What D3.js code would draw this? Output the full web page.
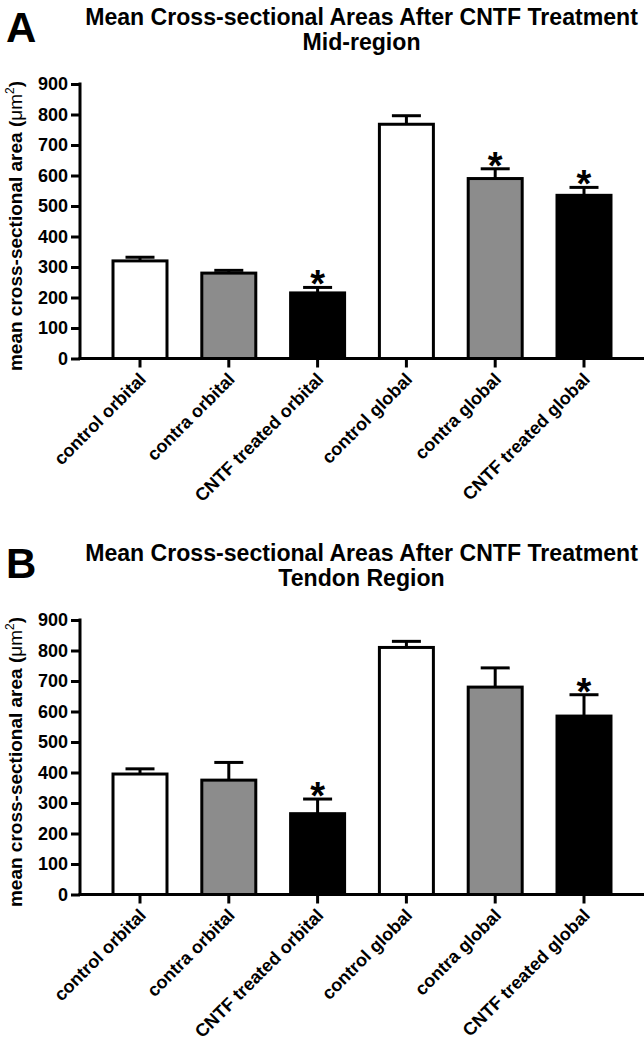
<!DOCTYPE html>
<html>
<head>
<meta charset="utf-8">
<script src="https://cdn.jsdelivr.net/npm/d3@7"></script>
<style>
  html, body { margin: 0; padding: 0; background: #fff; }
  svg { display: block; }
  text { font-family: "Liberation Sans", Arial, Helvetica, sans-serif; font-weight: bold; fill: #000; }
</style>
</head>
<body>
<svg id="chart" width="644" height="1047"></svg>
<script>
// ---- data ----
const categories = ["control orbital", "contra orbital", "CNTF treated orbital",
                    "control global", "contra global", "CNTF treated global"];
const barFills = ["#ffffff", "#8c8c8c", "#000000", "#ffffff", "#8c8c8c", "#000000"];
const yTicks = [0, 100, 200, 300, 400, 500, 600, 700, 800, 900];

const midMeans = [320, 280, 215, 768, 590, 535];
const midErrors = [12, 9, 18, 28, 32, 26];
const midSignificant = [false, false, true, false, true, true];

const tendonMeans = [395, 375, 265, 810, 680, 585];
const tendonErrors = [17, 58, 48, 20, 63, 70];
const tendonSignificant = [false, false, true, false, false, true];

const titleMain = "Mean Cross-sectional Areas After CNTF Treatment";
const yLabel = "mean cross-sectional area (";

const panels = [
  { letter: "A", subtitle: "Mid-region", means: midMeans, errors: midErrors, sig: midSignificant, dy: 0 },
  { letter: "B", subtitle: "Tendon Region", means: tendonMeans, errors: tendonErrors, sig: tendonSignificant, dy: 536 }
];

// ---- layout ----
const svg = d3.select("#chart");
const axisX = 80;
const yTop = 84, yBottom = 358.5;

const x = d3.scaleBand().domain(categories).range([95.6, 628.4]).paddingInner(0.392).paddingOuter(0.196);
const y = d3.scaleLinear().domain([0, 900]).range([yBottom, yTop]);

panels.forEach(p => {
  const g = svg.append("g").attr("transform", `translate(0,${p.dy})`);

  // panel letter
  g.append("text").attr("x", 6).attr("y", 42).attr("font-size", 42).text(p.letter);

  // title
  const t1 = g.append("text").attr("x", 361.5).attr("y", 25).attr("text-anchor", "middle")
    .attr("font-size", 21).text(titleMain);
  const w = t1.node().getComputedTextLength();
  const fs = 21 * 553 / w;
  t1.attr("font-size", fs);
  g.append("text").attr("x", 361.5).attr("y", 50).attr("text-anchor", "middle")
    .attr("font-size", fs).text(p.subtitle);

  // bars
  g.selectAll("rect.bar").data(categories).join("rect")
    .attr("class", "bar")
    .attr("x", d => x(d))
    .attr("width", x.bandwidth())
    .attr("y", (d, i) => y(p.means[i]))
    .attr("height", (d, i) => y(0) - y(p.means[i]))
    .attr("fill", (d, i) => barFills[i])
    .attr("stroke", "#000").attr("stroke-width", 3);

  // error bars (upper only)
  const capW = 29;
  categories.forEach((c, i) => {
    const cx = x(c) + x.bandwidth() / 2;
    const top = y(p.means[i] + p.errors[i]);
    g.append("line").attr("x1", cx).attr("x2", cx)
      .attr("y1", y(p.means[i])).attr("y2", top)
      .attr("stroke", "#000").attr("stroke-width", 3);
    g.append("line").attr("x1", cx - capW / 2).attr("x2", cx + capW / 2)
      .attr("y1", top).attr("y2", top)
      .attr("stroke", "#000").attr("stroke-width", 3);
    if (p.sig[i]) {
      g.append("text").attr("x", cx).attr("y", top + 10).attr("text-anchor", "middle")
        .attr("font-size", 38).text("*");
    }
  });

  // y axis
  const yAxis = d3.axisLeft(y).tickValues(yTicks).tickSize(9).tickSizeOuter(0).tickPadding(3);
  const ya = g.append("g").attr("transform", `translate(${axisX},0)`).call(yAxis);
  ya.select(".domain").attr("stroke", "#000").attr("stroke-width", 3)
    .attr("d", `M0,${yTop - 1.5}V${yBottom}`);
  ya.selectAll(".tick line").attr("stroke", "#000").attr("stroke-width", 3);
  ya.selectAll(".tick text").attr("font-size", 18).attr("font-family", null).attr("font-weight", "bold").attr("fill", "#000");

  // x axis
  const xAxis = d3.axisBottom(x).tickSize(9).tickSizeOuter(0).tickFormat("");
  const xa = g.append("g").attr("transform", `translate(0,${yBottom})`).call(xAxis);
  xa.select(".domain").attr("stroke", "#000").attr("stroke-width", 3)
    .attr("d", `M${axisX - 1.5},0H644`);
  xa.selectAll(".tick line").attr("stroke", "#000").attr("stroke-width", 3);

  // x labels rotated
  g.selectAll("text.xlab").data(categories).join("text")
    .attr("class", "xlab")
    .attr("text-anchor", "end")
    .attr("font-size", 18)
    .attr("transform", d => `translate(${x(d) + x.bandwidth() / 2 + 7},${yBottom + 22}) rotate(-45)`)
    .text(d => d);

  // y label
  const yl = g.append("text").attr("text-anchor", "middle").attr("font-size", 19)
    .attr("transform", `translate(22,226) rotate(-90)`);
  yl.append("tspan").text(yLabel);
  yl.append("tspan").attr("font-weight", "normal").text("\u03bcm");
  yl.append("tspan").attr("font-size", 12).attr("dy", -8).attr("font-weight", "normal").text("2");
  yl.append("tspan").attr("dy", 8).text(")");
});
</script>
</body>
</html>
